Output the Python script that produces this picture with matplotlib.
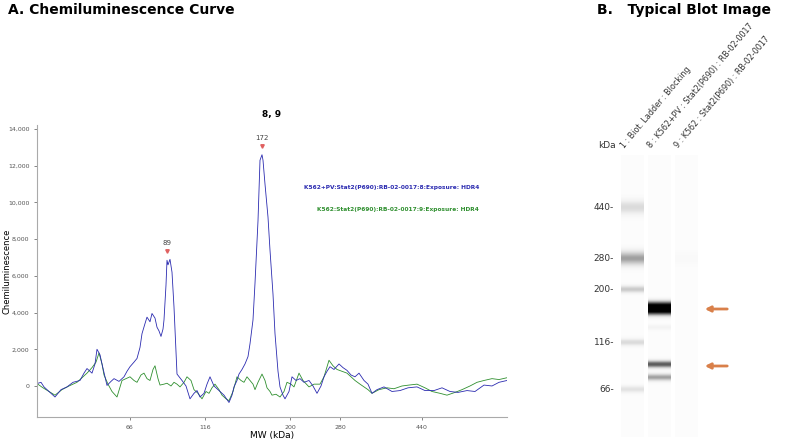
import numpy as np
import matplotlib.pyplot as plt

# ---- panel A data (x = position along lane, y = chemiluminescence) ----
blue_x = [0, 4, 7, 12, 18, 24, 30, 36, 43, 47, 50, 55, 58, 60, 63, 65, 70, 74, 77, 82, 87, 90, 93,
          97, 100, 103, 105, 108, 110, 113, 115, 118, 120, 122, 124, 126, 127, 129, 130, 131, 133,
          135, 137, 140, 145, 149, 153, 157, 160, 163, 167, 170, 173, 177, 182, 187, 192, 195, 197,
          200, 202, 205, 208, 211, 213, 216, 218, 221, 223, 225, 226, 228, 231, 233, 236, 238, 241,
          243, 246, 248, 252, 255, 259, 263, 267, 272, 276, 280, 284, 287, 290, 293, 297, 302, 306,
          310, 314, 318, 322, 327, 331, 335, 340, 347, 355, 363, 371, 380, 388, 397, 405, 413, 421,
          430, 438, 447, 455, 462, 470]
blue_y = [130, 200, -50, -300, -600, -200, -50, 200, 300, 700, 950, 700, 1200, 2000, 1700, 1200, 30,
          250, 400, 250, 500, 800, 1050, 1300, 1500, 2100, 2850, 3400, 3750, 3500, 3950, 3700, 3200,
          3000, 2700, 3100, 3600, 5500, 6850, 6600, 6900, 6200, 4300, 650, 300, 0, -700, -400, -250,
          -600, -400, 100, 500, 0, -250, -500, -900, -500, -50, 300, 650, 900, 1200, 1600, 2300, 3600,
          5600, 9000, 12300, 12600, 12300, 11000, 9200, 7400, 5000, 2850, 800, -50, -500, -700, -300,
          500, 300, 400, 200, 300, 0, -400, 0, 500, 800, 1050, 900, 1200, 1000, 850, 600, 500, 700,
          300, 100, -400, -200, -50, -300, -250, -100, -50, -250, -250, -100, -300, -350, -250, -300,
          50, 0, 200, 300]

green_x = [0, 6, 12, 18, 25, 32, 40, 46, 50, 55, 59, 62, 65, 67, 71, 75, 80, 85, 89, 93, 97, 100,
           104, 107, 110, 113, 116, 118, 121, 123, 127, 130, 134, 137, 140, 143, 147, 150, 154, 157,
           161, 165, 169, 172, 175, 178, 182, 185, 189, 192, 196, 200, 204, 207, 210, 213, 216, 218,
           221, 225, 228, 230, 233, 235, 239, 243, 247, 250, 254, 257, 260, 262, 266, 272, 277, 283,
           287, 292, 296, 300, 305, 310, 314, 318, 323, 327, 331, 335, 342, 350, 357, 365, 372, 380,
           388, 395, 403, 410, 418, 425, 433, 440, 447, 455, 462, 470]
green_y = [130, -100, -300, -500, -200, 0, 200, 500, 700, 1000, 1300, 1800, 1200, 600, 100, -300,
           -600, 300, 400, 500, 300, 200, 600, 700, 400, 300, 900, 1100, 400, 50, 100, 150, 0, 200,
           100, -50, 200, 500, 300, -200, -400, -700, -300, -400, -100, 100, -200, -500, -700, -800,
           -300, 500, 300, 200, 500, 300, 100, -200, 200, 650, 300, -100, -300, -500, -450, -600,
           -300, 200, 100, -50, 400, 700, 300, -50, 100, 100, 500, 1400, 1100, 900, 800, 700, 500,
           300, 100, -50, -200, -400, -200, -100, -150, 0, 50, 100, -100, -300, -400, -500, -350,
           -200, 0, 200, 300, 400, 350, 450]

peak_x = [130, 225]
peak_y = [6900, 12600]
peak_lab = ["89", "172"]

mw_ticks = [93, 168, 253, 303, 385]
mw_labels = ["66", "116", "200", "280", "440"]
y_ticks = list(range(0, 14001, 2000))

series_names = ["K562+PV:Stat2(P690):RB-02-0017:8:Exposure: HDR4",
                "K562:Stat2(P690):RB-02-0017:9:Exposure: HDR4"]

# ---- panel B data (vertical pixel positions on the blot) ----
lane_labels = ["1 : Biot. Ladder : Blocking",
               "8 : K562+PV : Stat2(P690) : RB-02-0017",
               "9 : K562 : Stat2(P690) : RB-02-0017"]
lane_centers = [632, 659, 686]
kda_labels = ["440", "280", "200", "116", "66"]
kda_pos = [207, 258, 289, 342, 389]
ladder_bands = [(207, 0.22, 5), (258, 0.45, 5), (289, 0.3, 2.5), (342, 0.22, 2.5), (389, 0.18, 2.5)]
lane8_bands = [(305, 0.9, 3), (311, 0.9, 3), (327, 0.08, 2), (364, 0.7, 2.5), (377, 0.45, 2.5)]
lane9_bands = [(258, 0.03, 5)]
arrow_y = [309, 366]

BLUE = "#2b2bb0"
GREEN = "#2f8f2f"
ORANGE = "#d9804a"

fig = plt.figure(figsize=(7.96, 4.42), dpi=100)

ax = fig.add_axes([37 / 796, 25 / 442, 470 / 796, 292 / 442])
ax.plot(green_x, green_y, color=GREEN, lw=0.6)
ax.plot(blue_x, blue_y, color=BLUE, lw=0.6)
for px, py, pl in zip(peak_x, peak_y, peak_lab):
    ax.plot(px, py + 450, marker="v", color="#e06060", ms=2.5)
    ax.text(px, py + 750, pl, ha="center", va="bottom", fontsize=5, color="#444444")
ax.text(442, 10800, series_names[0], color=BLUE, fontsize=4.2, fontweight="bold", ha="right", va="center")
ax.text(442, 9600, series_names[1], color=GREEN, fontsize=4.2, fontweight="bold", ha="right", va="center")
ax.set_xlim(0, 470)
ax.set_ylim(-1690, 14220)
ax.set_xticks(mw_ticks)
ax.set_xticklabels(mw_labels)
ax.set_yticks(y_ticks)
ax.set_yticklabels([f"{v:,}" for v in y_ticks])
ax.tick_params(labelsize=4.5, colors="#555555", length=2, width=0.5)
for s in ["top", "right"]:
    ax.spines[s].set_visible(False)
for s in ["left", "bottom"]:
    ax.spines[s].set_color("#aaaaaa")
ax.set_xlabel("MW (kDa)", fontsize=6.5, labelpad=1)
ax.set_ylabel("Chemiluminescence", fontsize=6)
ax.yaxis.set_label_coords(-0.055, 0.5)
ax.set_title("8, 9", fontsize=6.5, fontweight="bold", pad=6)

fig.text(8 / 796, 1 - 10 / 442, "A. Chemiluminescence Curve", fontsize=10, fontweight="bold", va="center")
fig.text(597 / 796, 1 - 10 / 442, "B.   Typical Blot Image", fontsize=10, fontweight="bold", va="center")

# ---- panel B ----
bx = fig.add_axes([590 / 796, 5 / 442, 150 / 796, 282 / 442])
bx.set_xlim(590, 740)
bx.set_ylim(437, 155)
bx.axis("off")
yy = np.arange(155, 437, 0.5)
for cx, bands in zip(lane_centers, [ladder_bands, lane8_bands, lane9_bands]):
    prof = np.full_like(yy, 0.02)
    for pos, amp, w in bands:
        prof += amp * np.exp(-0.5 * ((yy - pos) / w) ** 2)
    prof = np.clip(prof, 0, 1)
    img = np.tile(prof[:, None], (1, 20))
    bx.imshow(img, cmap="Greys", vmin=0, vmax=1, aspect="auto",
              extent=[cx - 11.5, cx + 11.5, 437, 155], interpolation="bilinear")
for lab, pos in zip(kda_labels, kda_pos):
    bx.text(614, pos, lab + "-", ha="right", va="center", fontsize=6.5, color="#333333")
bx.text(607, 150, "kDa", ha="center", va="bottom", fontsize=6.5, color="#333333")
for cx, lab in zip(lane_centers, lane_labels):
    bx.text(cx - 6, 150, lab, rotation=50, rotation_mode="anchor", ha="left", va="bottom",
            fontsize=5.8, color="#333333", clip_on=False)
for ay in arrow_y:
    bx.annotate("", xy=(702, ay), xytext=(730, ay),
                arrowprops=dict(arrowstyle="-|>", color=ORANGE, lw=2, mutation_scale=8))

fig.savefig("out.png", dpi=100)
